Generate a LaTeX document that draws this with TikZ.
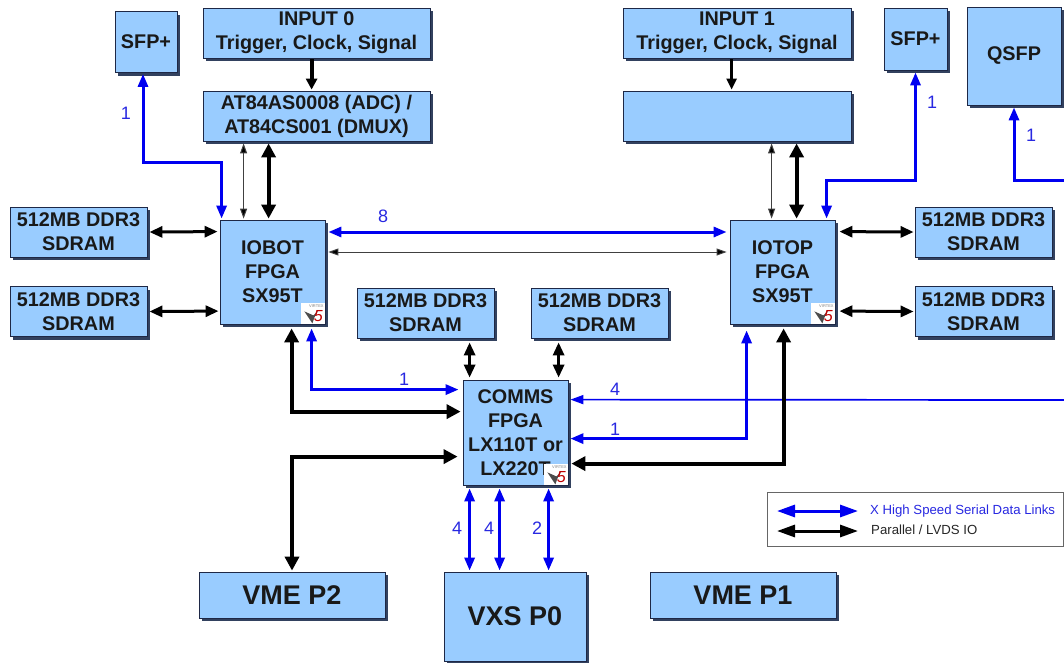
\documentclass[tikz,border=0pt]{standalone}
\usepackage{fontspec}
\setmainfont{Liberation Sans}
\usetikzlibrary{calc}
\usetikzlibrary{arrows.meta}
\usetikzlibrary{shadows}
\definecolor{boxblue}{RGB}{153,204,255}
\definecolor{boxedge}{RGB}{30,40,70}
\definecolor{boxshade}{RGB}{50,65,95}
\definecolor{linkblue}{RGB}{0,0,240}
\definecolor{numblue}{RGB}{40,40,225}
\tikzset{
    blockbox/.style={draw=boxedge,fill=boxblue,line width=.8pt,inner sep=0pt,align=center,
        font=\fontsize{19.8}{24}\selectfont\bfseries,text=black!90,
        drop shadow={shadow xshift=3pt,shadow yshift=-3pt,fill=boxshade,opacity=1}},
    bigbox/.style={blockbox,font=\fontsize{27}{30}\selectfont\bfseries},
    countlabel/.style={text=numblue,font=\fontsize{18}{20}\selectfont,inner sep=0pt},
    bluelink/.style={draw=linkblue,line width=3pt,{Triangle[width=10pt,length=13pt]}-{Triangle[width=10pt,length=13pt]}},
    bluehead/.style={draw=linkblue,line width=3pt,-{Triangle[width=10pt,length=13pt]}},
    serialfeed/.style={draw=linkblue,line width=1.7pt,-{Triangle[width=9pt,length=13pt]}},
    datalink/.style={draw=black,line width=3pt,{Triangle[width=11pt,length=13pt]}-{Triangle[width=11pt,length=13pt]}},
    heavylink/.style={draw=black,line width=4pt,{Triangle[width=14pt,length=14pt]}-{Triangle[width=14pt,length=14pt]}},
    finelink/.style={draw=black!75,line width=1pt,{Triangle[width=7pt,length=10pt,fill=black]}-{Triangle[width=7pt,length=10pt,fill=black]}},
    keytext/.style={font=\fontsize{13.2}{15}\selectfont,inner sep=0pt,anchor=west}
}
\newcommand{\VirtexMark}[1]{%
    \begin{scope}[shift={(#1.south east)}]
    \fill[white] (-24,-21) rectangle (0,0);
    \node[gray,font=\fontsize{4}{4}\selectfont,inner sep=0pt] at (-9,-18) {VIRTEX};
    \fill[black!70] (-21,-13) -- (-13,-1) -- (-11,-7) -- (-7,-14) -- (-12,-9) -- cycle;
    \node[red!75!black,font=\fontsize{16}{16}\selectfont\itshape,inner sep=0pt] at (-7,-8) {5};
    \end{scope}
}
\begin{document}
\begin{tikzpicture}[x=1pt,y=-1pt]
\useasboundingbox (0,0) rectangle (1064,662);

% top row
\node[blockbox,minimum width=62,minimum height=61] (sfpL) at (146,42) {SFP+};
\node[blockbox,minimum width=227,minimum height=50] (inZero) at (316.5,33) {INPUT 0\\Trigger, Clock, Signal};
\node[blockbox,minimum width=227,minimum height=50] (adc) at (316.5,116) {AT84AS0008 (ADC) /\\AT84CS001 (DMUX)};
\node[blockbox,minimum width=228,minimum height=50] (inOne) at (737,33) {INPUT 1\\Trigger, Clock, Signal};
\node[blockbox,minimum width=228,minimum height=50] (adcTwo) at (737,116) {};
\node[blockbox,minimum width=63,minimum height=62] (sfpR) at (915.5,39) {SFP+};
\node[blockbox,minimum width=94,minimum height=98] (qsfp) at (1014,56) {QSFP};

% memories
\node[blockbox,minimum width=137,minimum height=50] (ddrA) at (78.5,232) {512MB DDR3\\SDRAM};
\node[blockbox,minimum width=137,minimum height=50] (ddrB) at (78.5,311.5) {512MB DDR3\\SDRAM};
\node[blockbox,minimum width=137,minimum height=50] (ddrC) at (425.5,313) {512MB DDR3\\SDRAM};
\node[blockbox,minimum width=137,minimum height=50] (ddrD) at (599.5,313) {512MB DDR3\\SDRAM};
\node[blockbox,minimum width=137,minimum height=50] (ddrE) at (983.5,232) {512MB DDR3\\SDRAM};
\node[blockbox,minimum width=137,minimum height=50] (ddrF) at (983.5,311.5) {512MB DDR3\\SDRAM};

% fpgas
\node[blockbox,minimum width=105,minimum height=104] (iobot) at (272.5,272) {IOBOT\\FPGA\\SX95T};
\node[blockbox,minimum width=105,minimum height=104] (iotop) at (782.5,272) {IOTOP\\FPGA\\SX95T};
\node[blockbox,minimum width=105,minimum height=105] (comms) at (515.5,432.5) {COMMS\\FPGA\\LX110T or\\LX220T\hspace{3pt}};
\VirtexMark{iobot}
\VirtexMark{iotop}
\VirtexMark{comms}

% backplane
\node[bigbox,minimum width=186,minimum height=46] (vmeTwo) at (292,595) {VME P2};
\node[bigbox,minimum width=142,minimum height=89] (vxs) at (515,616.5) {VXS P0};
\node[bigbox,minimum width=186,minimum height=46] (vmeOne) at (743,595) {VME P1};

% links top
\draw[bluelink] ($(sfpL.south)+(-3,1)$) -- ++(0,89) -| ($(iobot.north west)+(2,-1)$);
\draw[draw=black,line width=4pt,-{Triangle[width=11pt,length=11pt]}] ($(inZero.south west)+(109,1)$) -- ($(adc.north west)+(109,-1)$);
\draw[draw=black,line width=2.7pt,-{Triangle[width=10pt,length=11pt]}] ($(inOne.south west)+(109,1)$) -- ($(adcTwo.north west)+(109,-1)$);
\draw[finelink] ($(adc.south west)+(41,2)$) -- ($(iobot.north west)+(24,-1)$);
\draw[heavylink] ($(adc.south west)+(66,2)$) -- ($(iobot.north west)+(49,-1)$);
\draw[finelink] ($(adcTwo.south west)+(149,2)$) -- ($(iotop.north west)+(42,-1)$);
\draw[heavylink] ($(adcTwo.south west)+(174,2)$) -- ($(iotop.north west)+(67,-1)$);
\draw[bluelink] ($(sfpR.south)+(0,2)$) -- ++(0,108) -| ($(iotop.north west)+(97,-1)$);
\draw[bluehead] (1064,180) coordinate (qsfpEnd) -| ($(qsfp.south)+(0,2)$);

% links memories
\draw[datalink] ($(ddrA.east)+(2,0)$) -- ($(iobot.north west)+(-2,12)$);
\draw[datalink] ($(ddrB.east)+(2,0)$) -- ($(iobot.north west)+(-1,91.5)$);
\draw[datalink] ($(iotop.north east)+(4,12)$) -- ($(ddrE.west)+(-1,0)$);
\draw[datalink] ($(iotop.north east)+(4,91.5)$) -- ($(ddrF.west)+(-1,0)$);
\draw[datalink] ($(ddrC.south west)+(113,4)$) -- ($(comms.north west)+(7,-2)$);
\draw[datalink] ($(ddrD.south west)+(28,4)$) -- ($(comms.north west)+(96,-2)$);

% links fpga
\draw[bluelink] ($(iobot.east)+(3,-40)$) -- ($(iotop.west)+(-3,-40)$);
\draw[finelink] ($(iobot.east)+(3,-20)$) -- ($(iotop.west)+(-3,-20)$);
\draw[bluelink] ($(iobot.south west)+(92,4)$) |- ($(comms.north west)+(-4,10)$);
\draw[heavylink] ($(iobot.south west)+(72,4)$) |- ($(comms.north west)+(-2,32)$);
\draw[heavylink] ($(vmeTwo.north)+(0,-1)$) |- ($(comms.north west)+(-5,77)$);
\draw[serialfeed] (1064,400) coordinate (commsEnd) -- ($(comms.north east)+(2,20)$);
\draw[bluelink] ($(comms.north east)+(2,59)$) -| ($(iotop.south west)+(17,6)$);
\draw[heavylink] ($(comms.north east)+(3,84)$) -| ($(iotop.south west)+(54,4)$);
\draw[bluelink] ($(comms.south west)+(7,3)$) -- ($(vxs.north west)+(26,-1)$);
\draw[bluelink] ($(comms.south west)+(37,3)$) -- ($(vxs.north west)+(56,-1)$);
\draw[bluelink] ($(comms.south west)+(86,3)$) -- ($(vxs.north west)+(105,-1)$);

% numbers
\node[countlabel] (nSfpL) at (126,113) {1};
\node[countlabel] (nSfpR) at (932,102) {1};
\node[countlabel] (nQsfp) at (1031,135) {1};
\node[countlabel] (nEight) at (383,216) {8};
\node[countlabel] (nIobot) at (404,379) {1};
\node[countlabel] (nFour) at (615,389) {4};
\node[countlabel] (nIotop) at (615,429) {1};
\node[countlabel] (nVxsA) at (457,528) {4};
\node[countlabel] (nVxsB) at (489,528) {4};
\node[countlabel] (nVxsC) at (537,528) {2};

% key
\node[draw=black!60,line width=1pt,fill=white,minimum width=296,minimum height=54,inner sep=0pt] (keyBox) at (915,519) {};
\node[keytext,text=numblue] (keySerial) at (870,511) {X High Speed Serial Data Links};
\node[keytext,text=black!85] (keyIO) at (871,530) {Parallel / LVDS IO};
\coordinate (keyA) at (777,511);
\coordinate (keyB) at (777,531);
\draw[draw=linkblue,line width=3pt,{Triangle[width=12pt,length=18pt]}-{Triangle[width=12pt,length=18pt]}] (keyA) -- ($(keySerial.west)+(-12,0)$);
\draw[draw=black,line width=3pt,{Triangle[width=12pt,length=18pt]}-{Triangle[width=12pt,length=18pt]}] (keyB) -- ($(keyIO.west)+(-13,1)$);

\end{tikzpicture}
\end{document}
